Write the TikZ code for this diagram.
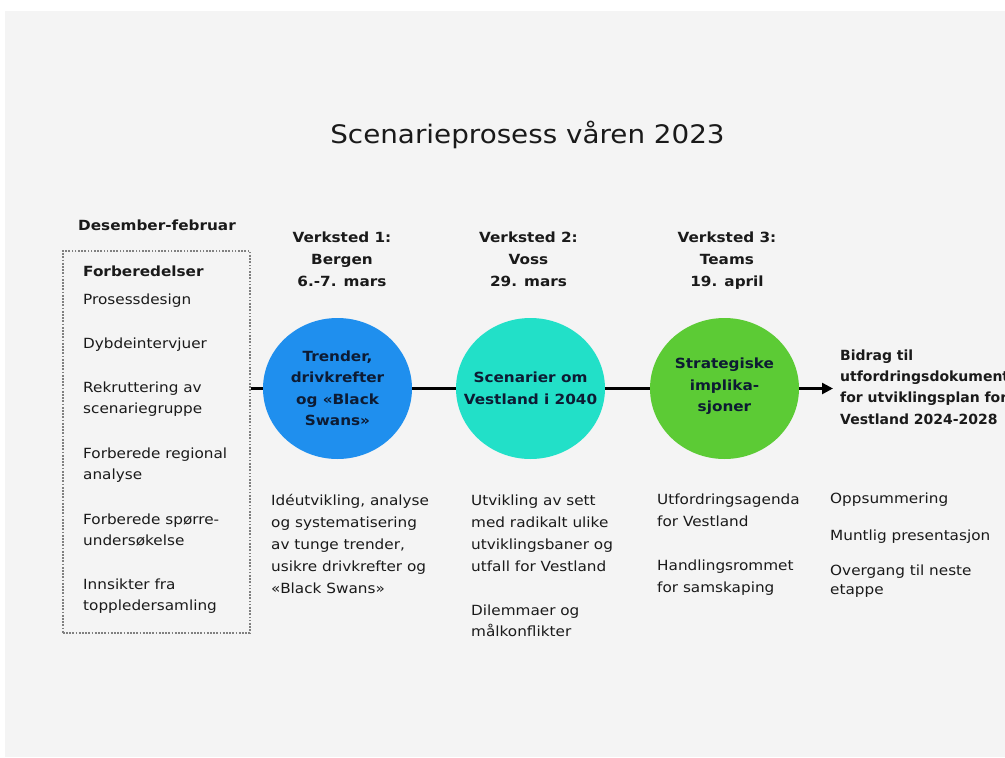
\documentclass[tikz,border=0pt]{standalone}
\usepackage{fontspec}
\setmainfont{DejaVu Sans}[FakeStretch=1.09]
\newfontfamily\outfont{DejaVu Sans}
\usetikzlibrary{shapes.geometric,arrows.meta}
\definecolor{bg}{HTML}{F4F4F4}
\definecolor{cblue}{HTML}{1F8FEE}
\definecolor{cteal}{HTML}{22E0C8}
\definecolor{cgreen}{HTML}{5CCB35}
\definecolor{txt}{HTML}{1A1A1A}
\definecolor{ctxt}{HTML}{0D1B33}
\definecolor{dotc}{HTML}{808080}
\tikzset{
  body/.style={font=\fontsize{14}{22}\selectfont, text=txt, inner sep=0pt, align=left, anchor=base west},
  bodyb/.style={font=\outfont\bfseries\fontsize{14}{21.3}\selectfont, text=txt, inner sep=0pt, align=left, anchor=base west},
  hdr/.style={font=\bfseries\fontsize{14}{22}\selectfont, text=txt, inner sep=0pt, align=center, anchor=base},
  wsp/.style={ellipse, minimum width=149pt, minimum height=141pt, inner sep=0pt},
  wsptext/.style={inner sep=0pt, align=center, font=\bfseries\fontsize{14}{21.5}\selectfont, text=ctxt},
  conn/.style={line width=2.5pt, draw=black},
  prepbox/.style={draw=dotc, line width=1.7pt, dash pattern=on 1.7pt off 1.5pt, inner sep=0pt,
    minimum width=187pt, minimum height=382pt, anchor=north west},
}
\begin{document}
\begin{tikzpicture}[x=1pt,y=-1pt]
\useasboundingbox (0,0) rectangle (1005,758);
\fill[white] (0,0) rectangle (1005,758);
\fill[bg] (5,11) rectangle (1005,757);

% title
\node[font=\fontsize{25.5}{30}\selectfont, text=txt, inner sep=0pt, anchor=base] (title) at (527.5,143) {Scenarieprosess våren 2023};

% preparation column
\node[hdr] (prephdr) at (157,230) {Desember-februar};
\node[prepbox] (prep) at (62,250) {};
\node[hdr, anchor=base west] (p0) at (83,276) {Forberedelser};
\node[body] (p1) at (83,304) {Prosessdesign};
\node[body] (p2) at (83,348) {Dybdeintervjuer};
\node[body, font=\fontsize{14}{21.5}\selectfont] (p3) at (83,413.5) {Rekruttering av\\scenariegruppe};
\node[body, font=\fontsize{14}{21.5}\selectfont] (p4) at (83,479.5) {Forberede regional\\analyse};
\node[body, font=\fontsize{14}{21.5}\selectfont] (p5) at (83,545.5) {Forberede spørre-\\undersøkelse};
\node[body, font=\fontsize{14}{21.5}\selectfont] (p6) at (83,610.5) {Innsikter fra\\toppledersamling};

% workshop headers
\node[hdr] (h1) at (342,286) {Verksted 1:\\Bergen\\6.-7. mars};
\node[hdr] (h2) at (528.5,286) {Verksted 2:\\Voss\\29. mars};
\node[hdr] (h3) at (727,286) {Verksted 3:\\Teams\\19. april};

% circles
\node[wsp, fill=cblue] (c1) at (337.5,388.5) {};
\node[wsp, fill=cteal] (c2) at (530.5,388.5) {};
\node[wsp, fill=cgreen] (c3) at (724.5,388.5) {};
\node[wsptext] (t1) at (c1) {Trender,\\drivkrefter\\og «Black\\Swans»};
\node[wsptext] (t2) at (c2) {Scenarier om\\Vestland i 2040};
\node[wsptext] (t3) at ([yshift=2pt]c3.center) {Strategiske\\implika-\\sjoner};

% outcome
\node[bodyb] (out) at (840,424) {Bidrag til\\utfordringsdokument\\for utviklingsplan for\\Vestland 2024-2028};

% connectors
\draw[conn] (c1.west -| prep.east) -- (c1.west);
\draw[conn] (c1.east) -- (c2.west);
\draw[conn] (c2.east) -- (c3.west);
\draw[conn, -{Triangle[length=11pt,width=11pt]}] (c3.east) -- ([xshift=-7pt]c3.east -| out.west);

% descriptions
\node[body] (d1) at (271,593) {Idéutvikling, analyse\\og systematisering\\av tunge trender,\\usikre drivkrefter og\\«Black Swans»};
\node[body] (d2) at (471,571) {Utvikling av sett\\med radikalt ulike\\utviklingsbaner og\\utfall for Vestland};
\node[body, font=\fontsize{14}{21.5}\selectfont] (d2b) at (471,636.5) {Dilemmaer og\\målkonflikter};
\node[body] (d3) at (657,526) {Utfordringsagenda\\for Vestland};
\node[body] (d3b) at (657,592) {Handlingsrommet\\for samskaping};
\node[body] (d4) at (830,503) {Oppsummering};
\node[body] (d4b) at (830,540) {Muntlig presentasjon};
\node[body, font=\fontsize{14}{19}\selectfont] (d4c) at (830,594) {Overgang til neste\\etappe};
\end{tikzpicture}
\end{document}
